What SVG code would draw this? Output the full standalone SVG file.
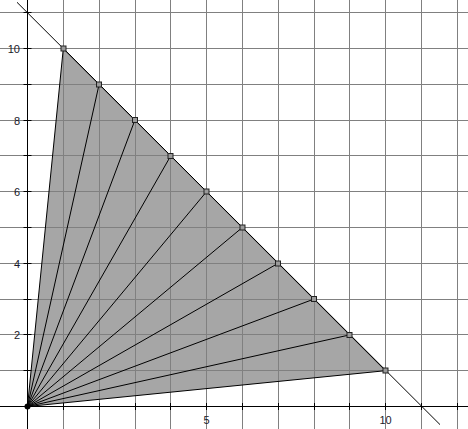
<svg xmlns="http://www.w3.org/2000/svg" width="468" height="429" viewBox="0 0 468 429">
<style>
.grid{stroke:#808080;stroke-width:1;fill:none}
.axis{stroke:#000;stroke-width:1;fill:none}
.seg{stroke:#000;stroke-width:1;fill:none}
.pt{fill:#9a9a9a;stroke:#222;stroke-width:1}
.lbl{font-family:"Liberation Sans",Arial,sans-serif;font-size:11px;fill:#1a1a2a}
</style>
<rect x="0" y="0" width="468" height="429" fill="#fff"/>
<g id="triangle">
<polygon points="27.5,406.5 63.3,48.5 385.5,370.7" fill="#a6a6a6" stroke="none"/>
</g>
<g id="grid" class="grid">
<path d="M63.5,0V429M99.5,0V429M135.5,0V429M170.5,0V429M206.5,0V429M242.5,0V429M278.5,0V429M314.5,0V429M349.5,0V429M385.5,0V429M421.5,0V429M457.5,0V429"/>
<path d="M0,370.5H468M0,334.5H468M0,299.5H468M0,263.5H468M0,227.5H468M0,191.5H468M0,155.5H468M0,120.5H468M0,84.5H468M0,48.5H468M0,12.5H468"/>
</g>
<g id="axes" class="axis">
<path d="M27.5,0V429M0,406.5H468"/>
<path d="M23.5,370.5h8M23.5,334.5h8M23.5,299.5h8M23.5,263.5h8M23.5,227.5h8M23.5,191.5h8M23.5,155.5h8M23.5,120.5h8M23.5,84.5h8M23.5,48.5h8M23.5,12.5h8"/>
<path d="M63.5,403v7M99.5,403v7M135.5,403v7M170.5,403v7M206.5,403v7M242.5,403v7M278.5,403v7M314.5,403v7M349.5,403v7M385.5,403v7M421.5,403v7M457.5,403v7"/>
</g>
<g id="labels" class="lbl">
<text x="20" y="338.5" text-anchor="end">2</text>
<text x="20" y="267.5" text-anchor="end">4</text>
<text x="20" y="195.5" text-anchor="end">6</text>
<text x="20" y="124.5" text-anchor="end">8</text>
<text x="20" y="52.5" text-anchor="end">10</text>
<text x="206.5" y="424" text-anchor="middle">5</text>
<text x="385.5" y="424" text-anchor="middle">10</text>
</g>
<g id="connectors" class="seg">
<line x1="17" y1="2.3" x2="440" y2="424.6"/>
<polygon points="27.5,406.5 63.3,48.5 385.5,370.7" fill="none"/>
<line x1="27.5" y1="406.5" x2="99.1" y2="84.3"/>
<line x1="27.5" y1="406.5" x2="134.9" y2="120.1"/>
<line x1="27.5" y1="406.5" x2="170.7" y2="155.9"/>
<line x1="27.5" y1="406.5" x2="206.5" y2="191.7"/>
<line x1="27.5" y1="406.5" x2="242.3" y2="227.5"/>
<line x1="27.5" y1="406.5" x2="278.1" y2="263.3"/>
<line x1="27.5" y1="406.5" x2="313.9" y2="299.1"/>
<line x1="27.5" y1="406.5" x2="349.7" y2="334.9"/>
</g>
<g id="O"><circle cx="27.5" cy="406.5" r="3" fill="#000"/></g>
<g id="P1"><rect class="pt" x="61" y="46" width="5" height="5"/></g>
<g id="P2"><rect class="pt" x="96.5" y="82" width="5" height="5"/></g>
<g id="P3"><rect class="pt" x="132.5" y="117.5" width="5" height="5"/></g>
<g id="P4"><rect class="pt" x="168" y="153.5" width="5" height="5"/></g>
<g id="P5"><rect class="pt" x="204" y="189" width="5" height="5"/></g>
<g id="P6"><rect class="pt" x="240" y="225" width="5" height="5"/></g>
<g id="P7"><rect class="pt" x="275.5" y="261" width="5" height="5"/></g>
<g id="P8"><rect class="pt" x="311.5" y="296.5" width="5" height="5"/></g>
<g id="P9"><rect class="pt" x="347" y="332.5" width="5" height="5"/></g>
<g id="P10"><rect class="pt" x="383" y="368" width="5" height="5"/></g>
</svg>
